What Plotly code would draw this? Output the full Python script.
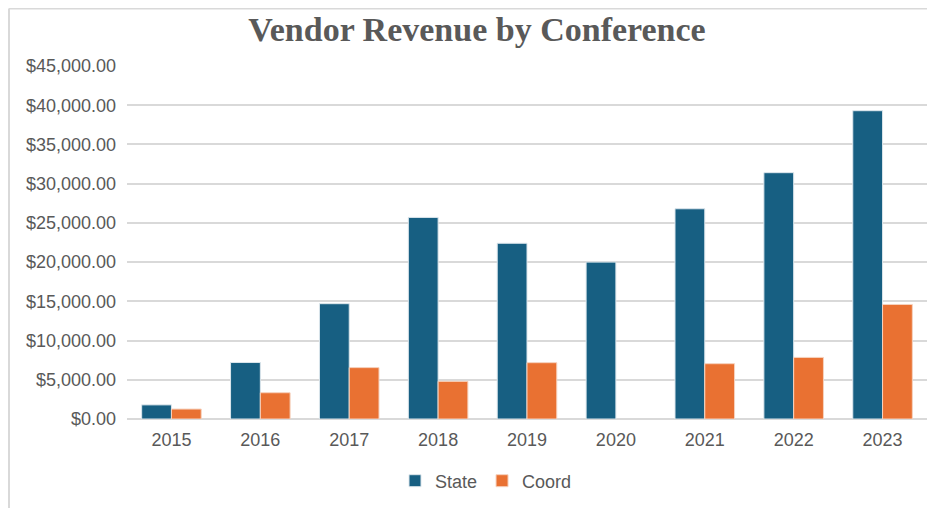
import plotly.graph_objects as go

years = ["2015", "2016", "2017", "2018", "2019", "2020", "2021", "2022", "2023"]
state = [1800, 7200, 14700, 25700, 22400, 20000, 26800, 31400, 39300]
coord = [1270, 3350, 6550, 4800, 7180, None, 7050, 7850, 14600]

blue = "#175F82"
orange = "#E97132"
grid = "#D9D9D9"
text_gray = "#595959"

# page body adds an 8px offset, so the plot area is placed 8px up/left
L, T, W, H = 119, 58, 800, 353

fig = go.Figure()
fig.add_trace(go.Bar(x=years, y=state, name="State",
                     marker=dict(color=blue, line=dict(color="#DCE6EC", width=1))))
fig.add_trace(go.Bar(x=years, y=coord, name="Coord",
                     marker=dict(color=orange, line=dict(color="#F6D2BE", width=1))))

fig.update_layout(
    width=938, height=508,
    margin=dict(l=L, r=938 - L - W, t=T, b=508 - T - H),
    paper_bgcolor="white", plot_bgcolor="white",
    barmode="group", bargap=0.33, bargroupgap=0,
    font=dict(family="Liberation Sans, Arial, sans-serif", size=18, color=text_gray),
    title=dict(text="<b>Vendor Revenue by Conference</b>",
               font=dict(family="Liberation Serif, serif", size=34, color=text_gray),
               x=(477 - 8) / 938, xanchor="center", y=1 - 21 / 508, yanchor="middle",
               yref="container"),
    legend=dict(orientation="h", x=(486 - 8 - L) / W, xanchor="center",
                y=-(481 - 8 - T - H) / H, yanchor="middle",
                font=dict(size=18, color=text_gray), itemwidth=30, traceorder="normal"),
    showlegend=True,
)
fig.update_yaxes(range=[0, 45000], dtick=5000, tickformat="$,.2f",
                 showgrid=True, gridcolor=grid, gridwidth=1.5,
                 zeroline=True, zerolinecolor=grid, zerolinewidth=1.5,
                 showline=False, ticks="", ticklabelstandoff=10, automargin=False)
fig.update_xaxes(showgrid=False, showline=False, ticks="", ticklabelstandoff=8,
                 automargin=False)

# outer chart frame (left and top edges of the figure)
fx = (1 - L) / W
fy = (T + H - 0.5) / H
fig.add_shape(type="line", xref="paper", yref="paper",
              x0=fx, x1=1.0, y0=fy, y1=fy, line=dict(color=grid, width=2))
fig.add_shape(type="line", xref="paper", yref="paper",
              x0=fx, x1=fx, y0=fy, y1=-(508 - T - H) / H,
              line=dict(color=grid, width=2))

fig.write_html("out.html")
